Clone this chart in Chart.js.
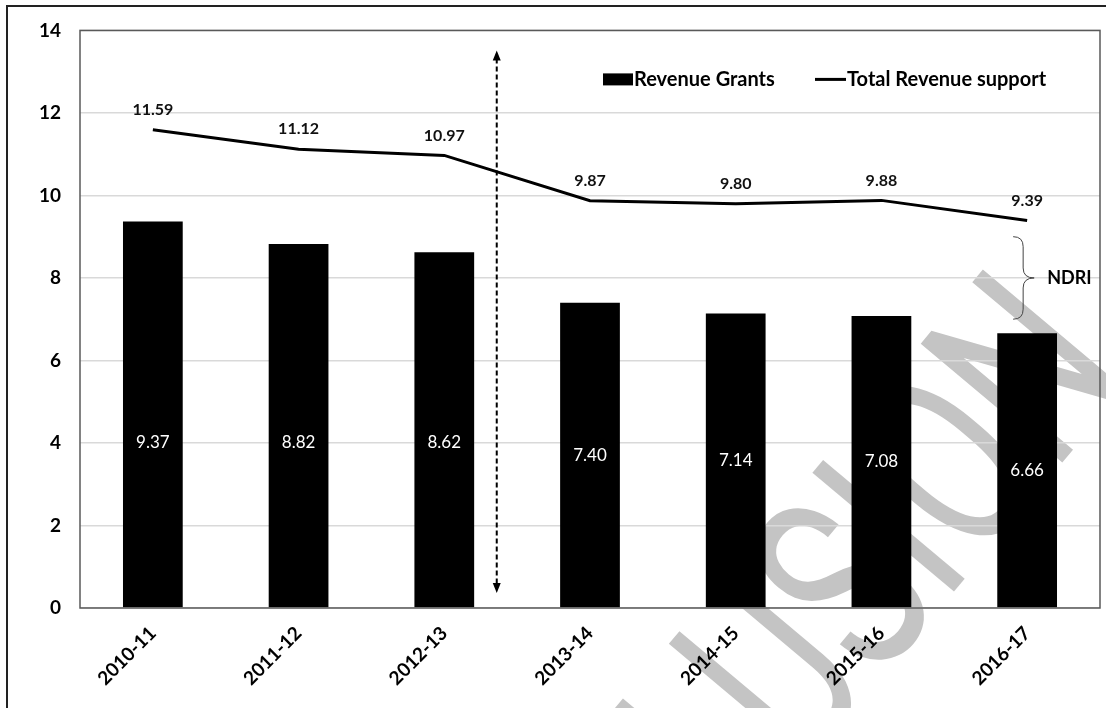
<!DOCTYPE html>
<html>
<head>
<meta charset="utf-8">
<script src="https://cdn.jsdelivr.net/npm/chart.js"></script>
<style>
  html, body { margin: 0; padding: 0; background: #fff; }
  #wrap { width: 1106px; height: 708px; }
</style>
</head>
<body>
<div id="wrap"><canvas id="myChart" width="1106" height="708"></canvas></div>
<script>
const years = ['2010-11', '2011-12', '2012-13', '2013-14', '2014-15', '2015-16', '2016-17'];
const revenueGrants = [9.37, 8.82, 8.62, 7.40, 7.14, 7.08, 6.66];
const totalRevenueSupport = [11.59, 11.12, 10.97, 9.87, 9.80, 9.88, 9.39];
const yTicks = [0, 2, 4, 6, 8, 10, 12, 14];

const FONT = "Lato, 'Open Sans', sans-serif";
var ctx = document.getElementById('myChart').getContext('2d');

// frame + faint watermark, drawn first
const backdrop = {
    id: 'backdrop',
    beforeDraw(chart) {
        const c = chart.ctx;
        c.save();
        c.fillStyle = '#fff';
        c.fillRect(0, 0, chart.width, chart.height);
        c.strokeStyle = '#222';
        c.lineWidth = 2;
        c.strokeRect(7, 6, 1200, 800);

        c.translate(1134, 377);
        c.rotate(-50 * Math.PI / 180);
        c.scale(0.68, 1);
        c.fillStyle = '#c4c4c4';
        c.font = "400 260px Roboto, 'Open Sans', sans-serif";
        c.textAlign = 'right';
        c.textBaseline = 'alphabetic';
        c.fillText('CONCLUSION', 0, 0);
        c.restore();
    }
};

const extras = {
    id: 'extras',
    afterDatasetsDraw(chart) {
        const c = chart.ctx;
        const area = chart.chartArea;
        const xs = chart.scales.x;
        const ys = chart.scales.y;
        c.save();

        // plot box
        c.strokeStyle = '#595959';
        c.lineWidth = 1.5;
        c.strokeRect(area.left, area.top, area.right - area.left, area.bottom - area.top);

        // bar values
        const bars = chart.getDatasetMeta(0);
        c.fillStyle = '#fff';
        c.font = '17px ' + FONT;
        c.textAlign = 'center';
        c.textBaseline = 'middle';
        bars.data.forEach((el, i) => {
            const v = revenueGrants[i];
            c.fillText(v.toFixed(2), el.x, ys.getPixelForValue(Math.min(v / 2, 4.02)));
        });

        // line values
        const line = chart.getDatasetMeta(1);
        c.fillStyle = '#111';
        c.font = 'bold 16px ' + FONT;
        line.data.forEach((el, i) => {
            c.fillText(totalRevenueSupport[i].toFixed(2), el.x, el.y - 20);
        });

        // dashed double arrow between 2012-13 and 2013-14
        const ax = xs.getPixelForValue(2) + (xs.getPixelForValue(3) - xs.getPixelForValue(2)) * 0.36;
        const top = area.top + 20, bot = area.bottom - 15;
        c.strokeStyle = '#000';
        c.lineWidth = 2;
        c.setLineDash([5, 3]);
        c.beginPath();
        c.moveTo(ax, top + 8);
        c.lineTo(ax, bot - 8);
        c.stroke();
        c.setLineDash([]);
        c.fillStyle = '#000';
        c.beginPath();
        c.moveTo(ax, top); c.lineTo(ax - 4, top + 10); c.lineTo(ax + 4, top + 10); c.closePath();
        c.fill();
        c.beginPath();
        c.moveTo(ax, bot); c.lineTo(ax - 4, bot - 10); c.lineTo(ax + 4, bot - 10); c.closePath();
        c.fill();

        // NDRI brace
        const bx0 = xs.getPixelForValue(6) - 14;
        const bx1 = bx0 + 10, bx2 = bx0 + 21;
        const bTop = ys.getPixelForValue(9), bBot = ys.getPixelForValue(7);
        const bMid = (bTop + bBot) / 2, q = 10;
        c.strokeStyle = '#444';
        c.lineWidth = 1;
        c.beginPath();
        c.moveTo(bx0, bTop);
        c.quadraticCurveTo(bx1, bTop, bx1, bTop + q);
        c.lineTo(bx1, bMid - q);
        c.quadraticCurveTo(bx1, bMid, bx2, bMid);
        c.quadraticCurveTo(bx1, bMid, bx1, bMid + q);
        c.lineTo(bx1, bBot - q);
        c.quadraticCurveTo(bx1, bBot, bx0, bBot);
        c.stroke();
        c.fillStyle = '#000';
        c.font = 'bold 18px ' + FONT;
        c.textAlign = 'left';
        c.fillText('NDRI', bx2 + 13, bMid);

        // legend
        const ly = area.top + 49;
        c.font = 'bold 20px ' + FONT;
        c.fillRect(603, ly - 6, 30, 12);
        c.fillText('Revenue Grants', 634, ly);
        c.lineWidth = 3;
        c.strokeStyle = '#000';
        c.beginPath();
        c.moveTo(815, ly); c.lineTo(846, ly);
        c.stroke();
        c.fillText('Total Revenue support', 847, ly);

        c.restore();
    }
};

var myChart = new Chart(ctx, {
    type: 'bar',
    data: {
        labels: years,
        datasets: [{
            type: 'bar',
            label: 'Revenue Grants',
            data: revenueGrants,
            backgroundColor: '#000',
            barPercentage: 0.41,
            categoryPercentage: 1,
            order: 2
        }, {
            type: 'line',
            label: 'Total Revenue support',
            data: totalRevenueSupport,
            borderColor: '#000',
            borderWidth: 3,
            pointRadius: 0,
            tension: 0,
            fill: false,
            order: 1
        }]
    },
    options: {
        responsive: false,
        animation: false,
        devicePixelRatio: 1,
        layout: { padding: { top: 30, right: 6, left: 0, bottom: 0 } },
        plugins: {
            legend: { display: false },
            tooltip: { enabled: false }
        },
        scales: {
            x: {
                grid: { display: false },
                border: { display: false },
                ticks: {
                    color: '#000',
                    font: { family: FONT, size: 19, weight: 'bold' },
                    minRotation: 45,
                    maxRotation: 45,
                    padding: 6
                },
                afterFit(scale) { scale.height = 100; }
            },
            y: {
                min: 0,
                max: 14,
                afterBuildTicks(scale) { scale.ticks = yTicks.map(v => ({ value: v })); },
                grid: { color: '#d9d9d9', lineWidth: 1.5, drawTicks: false },
                border: { display: false },
                ticks: {
                    color: '#000',
                    font: { family: FONT, size: 19, weight: 'bold' },
                    padding: 19
                },
                afterFit(scale) { scale.width = 80; }
            }
        }
    },
    plugins: [backdrop, extras]
});
</script>
</body>
</html>
